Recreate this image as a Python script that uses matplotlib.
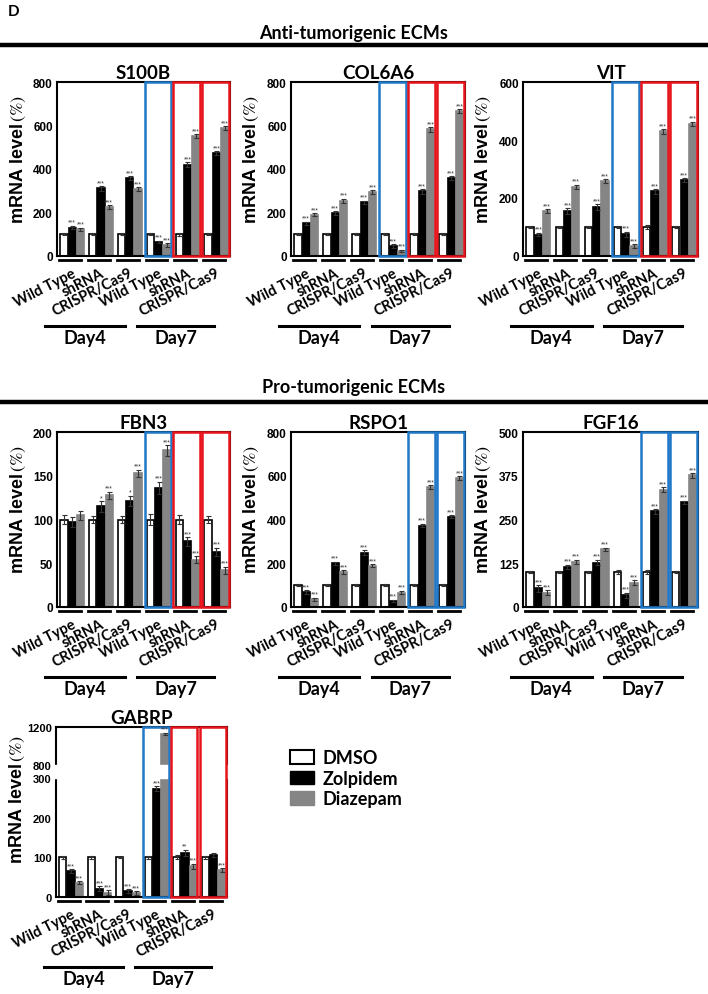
import numpy as np
import matplotlib.pyplot as plt
from matplotlib.patches import Rectangle, Patch
from matplotlib.lines import Line2D

plt.rcParams['mathtext.fontset'] = 'stix'

# Data
groups = ["Wild Type", "shRNA", "CRISPR/Cas9", "Wild Type", "shRNA", "CRISPR/Cas9"]
days = ["Day4", "Day7"]
legend_labels = ["DMSO", "Zolpidem", "Diazepam"]

# S100B
s100b_dmso = [100, 100, 100, 100, 100, 100]
s100b_zol = [131, 311, 358, 65, 420, 474]
s100b_diaz = [123, 226, 308, 50, 551, 588]
s100b_err_dmso = [5, 5, 5, 5, 6, 5]
s100b_err_zol = [8, 10, 10, 6, 10, 8]
s100b_err_diaz = [8, 8, 7, 8, 10, 8]
s100b_star_zol = ["***"] * 6
s100b_star_diaz = ["***"] * 6
s100b_boxes = [None, None, None, "blue", "red", "red"]

# COL6A6
col6a6_dmso = [100, 100, 100, 100, 100, 100]
col6a6_zol = [151, 197, 246, 46, 297, 358]
col6a6_diaz = [189, 254, 295, 23, 582, 666]
col6a6_err_dmso = [5, 5, 5, 5, 5, 5]
col6a6_err_zol = [7, 9, 8, 7, 10, 10]
col6a6_err_diaz = [7, 9, 8, 6, 10, 8]
col6a6_star_zol = ["***"] * 6
col6a6_star_diaz = ["***"] * 6
col6a6_boxes = [None, None, None, "blue", "red", "red"]

# VIT
vit_dmso = [100, 100, 100, 100, 100, 100]
vit_zol = [74, 155, 169, 75, 223, 261]
vit_diaz = [155, 238, 259, 34, 430, 456]
vit_err_dmso = [5, 5, 5, 5, 6, 4]
vit_err_zol = [6, 9, 9, 9, 8, 7]
vit_err_diaz = [7, 8, 6, 7, 8, 7]
vit_star_zol = ["***"] * 6
vit_star_diaz = ["***"] * 6
vit_boxes = [None, None, None, "blue", "red", "red"]

# FBN3
fbn3_dmso = [100, 100, 100, 100, 100, 100]
fbn3_zol = [97, 115, 121, 136, 75, 63]
fbn3_diaz = [105, 128, 153, 179, 54, 42]
fbn3_err_dmso = [5, 4, 4, 6, 5, 4]
fbn3_err_zol = [6, 6, 6, 7, 5, 5]
fbn3_err_diaz = [5, 4, 4, 6, 4, 4]
fbn3_star_zol = ["", "*", "*", "***", "***", "***"]
fbn3_star_diaz = ["", "***", "***", "***", "***", "***"]
fbn3_boxes = [None, None, None, "blue", "red", "red"]

# RSPO1
rspo1_dmso = [100, 100, 100, 100, 100, 100]
rspo1_zol = [69, 199, 249, 28, 372, 413]
rspo1_diaz = [35, 161, 188, 66, 547, 590]
rspo1_err_dmso = [4, 4, 4, 4, 4, 4]
rspo1_err_zol = [8, 9, 10, 5, 8, 8]
rspo1_err_diaz = [7, 8, 7, 8, 9, 8]
rspo1_star_zol = ["***"] * 6
rspo1_star_diaz = ["***"] * 6
rspo1_boxes = [None, None, None, None, "blue", "blue"]

# FGF16
fgf16_dmso = [100, 100, 100, 100, 100, 100]
fgf16_zol = [53, 115, 127, 33, 273, 299]
fgf16_diaz = [41, 129, 165, 70, 335, 376]
fgf16_err_dmso = [4, 4, 3, 5, 5, 3]
fgf16_err_zol = [9, 6, 8, 8, 7, 5]
fgf16_err_diaz = [7, 6, 5, 7, 7, 6]
fgf16_star_zol = ["***"] * 6
fgf16_star_diaz = ["***"] * 6
fgf16_boxes = [None, None, None, None, "blue", "blue"]

# GABRP
gabrp_dmso = [100, 100, 100, 100, 100, 100]
gabrp_zol = [65, 21, 15, 274, 112, 106]
gabrp_diaz = [36, 11, 10, 1130, 78, 68]
gabrp_err_dmso = [3, 4, 2, 3, 5, 3]
gabrp_err_zol = [5, 7, 5, 6, 8, 5]
gabrp_err_diaz = [4, 6, 5, 10, 6, 5]
gabrp_star_zol = ["***", "***", "***", "***", "**", ""]
gabrp_star_diaz = ["***"] * 6
gabrp_boxes = [None, None, None, "blue", "red", "red"]

BOX_COLORS = {"blue": "#1f78c8", "red": "#e8141c"}
GREY = "#858585"
TEXT_FONT = "Lato"
NUM_FONT = "Liberation Sans"

FIG_W, FIG_H = 708, 995


# broken y axis for GABRP: 0-300 normal, 300-800 squeezed, 800-1200 compressed
def gabrp_fwd(y):
    y = np.asarray(y, dtype=float)
    return np.where(y <= 300, y, np.where(y < 800, 300 + (y - 300) * 0.068, 334 + (y - 800) * 0.24))


def gabrp_inv(u):
    u = np.asarray(u, dtype=float)
    return np.where(u <= 300, u, np.where(u < 334, 300 + (u - 300) / 0.068, 800 + (u - 334) / 0.24))


def draw_panel(ax, title, dmso, zol, diaz, err_dmso, err_zol, err_diaz,
               star_zol, star_diaz, ymax, yticks, boxes, ylabel_y=0.56):
    x = np.arange(len(groups))
    series = [
        (dmso, err_dmso, 0.24, "white", None),
        (zol, err_zol, 0.525, "black", star_zol),
        (diaz, err_diaz, 0.81, GREY, star_diaz),
    ]
    for vals, errs, off, fc, stars in series:
        pos = x + off
        ec = "black" if fc == "white" else fc
        ax.bar(pos, vals, width=0.25, color=fc, edgecolor=ec, linewidth=1.2, zorder=2)
        ax.errorbar(pos, vals, yerr=errs, fmt="none", ecolor="#333333",
                    elinewidth=0.8, capsize=1.8, capthick=0.8, zorder=2.2)
        if stars is not None:
            for p, v, e, s in zip(pos, vals, errs, stars):
                if s:
                    ax.annotate(s, (p, v + e), xytext=(0, 0), textcoords="offset points",
                                ha="center", va="bottom", fontsize=4.8, color="#333333",
                                family=NUM_FONT, zorder=5)

    ax.set_xlim(0, 6)
    ax.set_ylim(0, ymax)
    ax.set_yticks(yticks)
    ax.set_yticklabels([str(t) for t in yticks], fontsize=8.5, fontweight="bold",
                       family=NUM_FONT)
    ax.tick_params(axis="y", length=0, pad=3)
    for sp in ax.spines.values():
        sp.set_linewidth(1.5)

    # coloured frames around selected groups
    for i, c in enumerate(boxes):
        if c:
            ax.add_patch(Rectangle((i + 0.04, 0), 0.92, ymax, fill=False,
                                   edgecolor=BOX_COLORS[c], linewidth=1.8,
                                   zorder=4, clip_on=False))

    ax.set_title(title, fontsize=13.5, fontweight="bold", family=TEXT_FONT, pad=3)
    ax.set_ylabel("mRNA level" + r"$\,(\%)$", fontsize=13, fontweight="bold",
                  family=NUM_FONT)
    ax.yaxis.set_label_coords(-0.17, ylabel_y)

    # group labels
    ax.set_xticks(x + 0.5)
    ax.set_xticklabels(groups, rotation=27, ha="right", rotation_mode="anchor",
                       fontsize=10.5, fontweight="bold", family=TEXT_FONT)
    ax.tick_params(axis="x", length=0, pad=7)

    h_px = ax.get_position().height * FIG_H
    trans = ax.get_xaxis_transform()
    # short line under each group
    for i in range(len(groups)):
        ax.plot([i + 0.07, i + 0.83], [-4 / h_px] * 2, color="black", lw=2,
                transform=trans, clip_on=False)
    # day lines and labels
    day_y = -70 / h_px
    for (x0, x1), d in zip([(-0.42, 2.36), (2.78, 5.45)], days):
        ax.plot([x0, x1], [day_y, day_y], color="black", lw=2.2,
                transform=trans, clip_on=False)
        ax.text((x0 + x1) / 2, day_y - 3 / h_px, d, transform=trans, ha="center",
                va="top", fontsize=13, fontweight="bold", family=TEXT_FONT)


fig = plt.figure(figsize=(FIG_W / 100, FIG_H / 100), dpi=100)


def add_axes(left_px, top_px, w_px, h_px):
    return fig.add_axes([left_px / FIG_W, 1 - (top_px + h_px) / FIG_H, w_px / FIG_W, h_px / FIG_H])


ax1 = add_axes(57, 83, 173, 174)
ax2 = add_axes(291, 83, 174, 174)
ax3 = add_axes(523, 83, 175, 174)
ax4 = add_axes(57, 433, 173, 175)
ax5 = add_axes(291, 433, 174, 175)
ax6 = add_axes(523, 433, 175, 175)
ax7 = add_axes(56, 728, 171, 170)

draw_panel(ax1, "S100B", s100b_dmso, s100b_zol, s100b_diaz, s100b_err_dmso, s100b_err_zol,
           s100b_err_diaz, s100b_star_zol, s100b_star_diaz, 800, [0, 200, 400, 600, 800], s100b_boxes)
draw_panel(ax2, "COL6A6", col6a6_dmso, col6a6_zol, col6a6_diaz, col6a6_err_dmso, col6a6_err_zol,
           col6a6_err_diaz, col6a6_star_zol, col6a6_star_diaz, 800, [0, 200, 400, 600, 800], col6a6_boxes)
draw_panel(ax3, "VIT", vit_dmso, vit_zol, vit_diaz, vit_err_dmso, vit_err_zol,
           vit_err_diaz, vit_star_zol, vit_star_diaz, 600, [0, 200, 400, 600], vit_boxes)
draw_panel(ax4, "FBN3", fbn3_dmso, fbn3_zol, fbn3_diaz, fbn3_err_dmso, fbn3_err_zol,
           fbn3_err_diaz, fbn3_star_zol, fbn3_star_diaz, 200, [0, 50, 100, 150, 200], fbn3_boxes)
draw_panel(ax5, "RSPO1", rspo1_dmso, rspo1_zol, rspo1_diaz, rspo1_err_dmso, rspo1_err_zol,
           rspo1_err_diaz, rspo1_star_zol, rspo1_star_diaz, 800, [0, 200, 400, 600, 800], rspo1_boxes)
draw_panel(ax6, "FGF16", fgf16_dmso, fgf16_zol, fgf16_diaz, fgf16_err_dmso, fgf16_err_zol,
           fgf16_err_diaz, fgf16_star_zol, fgf16_star_diaz, 500, [0, 125, 250, 375, 500], fgf16_boxes)

ax7.set_yscale("function", functions=(gabrp_fwd, gabrp_inv))
draw_panel(ax7, "GABRP", gabrp_dmso, gabrp_zol, gabrp_diaz, gabrp_err_dmso, gabrp_err_zol,
           gabrp_err_diaz, gabrp_star_zol, gabrp_star_diaz, 1200, [0, 100, 200, 300, 800, 1200],
           gabrp_boxes, ylabel_y=0.58)
ax7.set_yticklabels(["0", "100", "200", "300", "800", "1200"], fontsize=8, fontweight="bold",
                    family=NUM_FONT)
# white band = axis break
ax7.axhspan(300, 800, xmin=-0.012, xmax=1.0, color="white", zorder=3, clip_on=False)

# headers
fig.text(8 / FIG_W, 1 - 12 / FIG_H, "D", fontsize=11, fontweight="bold", family=TEXT_FONT,
         ha="left", va="center")
fig.text(0.5, 1 - 33 / FIG_H, "Anti-tumorigenic ECMs", fontsize=13, fontweight="bold",
         family=TEXT_FONT, ha="center", va="center")
fig.add_artist(Line2D([0, 1], [1 - 46 / FIG_H] * 2, color="black", lw=3.2, transform=fig.transFigure))
fig.text(0.5, 1 - 388 / FIG_H, "Pro-tumorigenic ECMs", fontsize=13, fontweight="bold",
         family=TEXT_FONT, ha="center", va="center")
fig.add_artist(Line2D([0, 1], [1 - 403 / FIG_H] * 2, color="black", lw=3.2, transform=fig.transFigure))

# legend
handles = [Patch(facecolor="white", edgecolor="black", linewidth=1.5),
           Patch(facecolor="black", edgecolor="black"),
           Patch(facecolor=GREY, edgecolor=GREY)]
fig.legend(handles, legend_labels, loc="upper left", bbox_to_anchor=(274 / FIG_W, 1 - 734 / FIG_H),
           frameon=False, handlelength=1.3, handleheight=0.8, handletextpad=0.5,
           labelspacing=0.2, prop={"family": TEXT_FONT, "weight": "bold", "size": 13})

fig.savefig("out.png", dpi=100)
